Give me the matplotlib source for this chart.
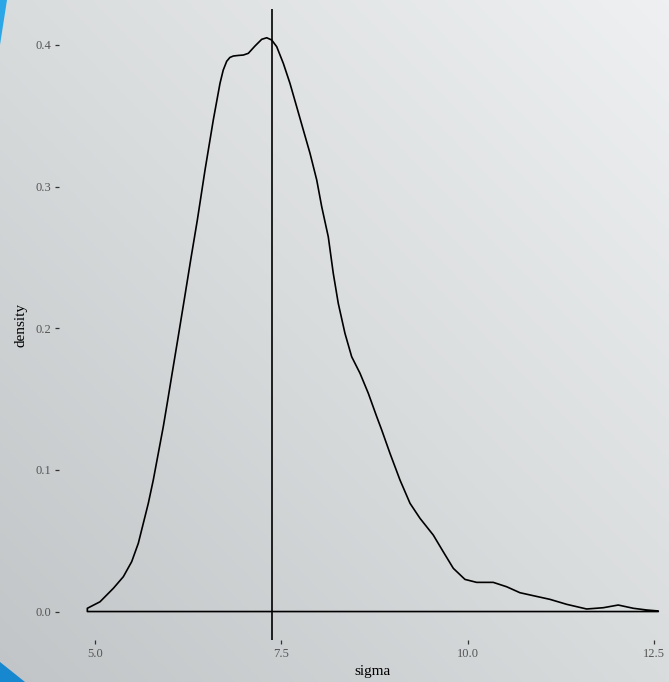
import matplotlib
matplotlib.use("Agg")
import matplotlib.pyplot as plt
from matplotlib.patches import Polygon
import numpy as np

# density estimate of sigma
sigma = [4.897, 5.067, 5.246, 5.380, 5.492, 5.581, 5.648, 5.715, 5.782, 5.849,
         5.916, 5.970, 6.029, 6.114, 6.201, 6.288, 6.373, 6.476, 6.587, 6.677,
         6.720, 6.767, 6.810, 6.856, 6.920, 6.990, 7.057, 7.147, 7.237, 7.304,
         7.371, 7.438, 7.527, 7.616, 7.706, 7.795, 7.885, 7.975, 8.042, 8.130,
         8.197, 8.264, 8.354, 8.444, 8.556, 8.667, 8.780, 8.847, 8.958, 9.092,
         9.227, 9.361, 9.539, 9.673, 9.808, 9.964, 10.121, 10.344, 10.524, 10.702,
         10.881, 11.105, 11.329, 11.597, 11.820, 12.021, 12.223, 12.402, 12.558]
density = [0.0023, 0.0069, 0.0164, 0.0246, 0.0352, 0.0482, 0.0623, 0.0764, 0.0929, 0.1117,
           0.1305, 0.1474, 0.1663, 0.1933, 0.2213, 0.2496, 0.2764, 0.3117, 0.3470, 0.3729,
           0.3822, 0.3885, 0.3912, 0.3922, 0.3926, 0.3929, 0.3941, 0.3993, 0.4040, 0.4051,
           0.4035, 0.3988, 0.3870, 0.3729, 0.3564, 0.3400, 0.3235, 0.3047, 0.2858, 0.2646,
           0.2388, 0.2176, 0.1964, 0.1799, 0.1682, 0.1541, 0.1376, 0.1282, 0.1117, 0.0929,
           0.0764, 0.0658, 0.0540, 0.0422, 0.0305, 0.0227, 0.0206, 0.0206, 0.0175, 0.0133,
           0.0112, 0.0086, 0.0051, 0.0018, 0.0027, 0.0046, 0.0023, 0.0011, 0.0004]
sigma_mean = 7.371

xticks = [5.0, 7.5, 10.0, 12.5]
xticklabels = ["5.0", "7.5", "10.0", "12.5"]
yticks = [0.0, 0.1, 0.2, 0.3, 0.4]
yticklabels = ["0.0", "0.1", "0.2", "0.3", "0.4"]

W, H = 669, 682
fig = plt.figure(figsize=(W / 100, H / 100), dpi=100)

# slide-like gradient background
bg = fig.add_axes([0, 0, 1, 1], zorder=-10)
gx, gy = np.meshgrid(np.linspace(0, 1, 200), np.linspace(0, 1, 200))
grad = (gx + gy) / 2
bg.imshow(grad, cmap=matplotlib.colors.LinearSegmentedColormap.from_list(
    "bg", ["#c1c5c7", "#d9dcdd", "#eef0f1"]), origin="lower",
    extent=[0, 1, 0, 1], aspect="auto")
bg.add_patch(Polygon([[0, 1], [7 / W, 1], [0, 1 - 45 / H]], closed=True,
                     facecolor="#2ba7e8", edgecolor="none"))
bg.add_patch(Polygon([[0, 20 / H], [25 / W, 0], [0, 0]], closed=True,
                     facecolor="#1788cf", edgecolor="none"))
bg.set_xlim(0, 1)
bg.set_ylim(0, 1)
bg.axis("off")

# panel (extends slightly past the right edge, as in the reference)
left, right = 58.8, 686.8
top, bottom = 9.0, 640.3
ax = fig.add_axes([left / W, 1 - bottom / H, (right - left) / W, (bottom - top) / H])
ax.patch.set_alpha(0)

xs = [sigma[0]] + sigma + [sigma[-1]]
ys = [0.0] + density + [0.0]
ax.add_patch(Polygon(np.column_stack([xs, ys]), closed=True, fill=False,
                     edgecolor="black", linewidth=1.2, joinstyle="round"))
ax.axvline(sigma_mean, color="black", linewidth=1.2)

ax.set_xlim(4.514, 12.941)
ax.set_ylim(-0.0203, 0.4254)

serif = ["Liberation Serif", "DejaVu Serif"]
ax.set_xticks(xticks)
ax.set_xticklabels(xticklabels, family=serif, fontsize=9, color="#555555")
ax.set_yticks(yticks)
ax.set_yticklabels(yticklabels, family=serif, fontsize=9, color="#555555")
ax.tick_params(length=3, width=0.9, color="#333333", pad=2.5)
for s in ax.spines.values():
    s.set_visible(False)

ax.set_xlabel("sigma", family=serif, fontsize=11, labelpad=4)
ax.set_ylabel("density", family=serif, fontsize=11, labelpad=6)

fig.savefig("out.png", dpi=100)
